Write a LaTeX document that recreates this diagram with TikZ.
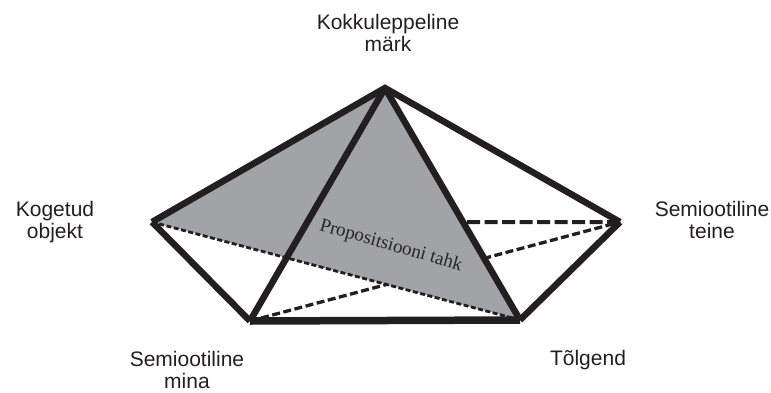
\documentclass[tikz,border=0pt]{standalone}
\usepackage{fontspec}
\setmainfont{Liberation Sans}
\newfontfamily\serifface{Liberation Serif}
\definecolor{ink}{RGB}{35,31,32}
\definecolor{facegray}{RGB}{162,163,167}
\definecolor{facetext}{RGB}{40,37,39}
\begin{document}
\begin{tikzpicture}[x=1pt,y=-1pt,
  edge/.style={draw=ink,line width=6.5pt,line join=miter,line cap=butt},
  baseedge/.style={draw=ink,line width=7.5pt},
  finedash/.style={draw=ink,line width=2.8pt,dash pattern=on 5pt off 2.5pt},
  middash/.style={draw=ink,line width=3.3pt,dash pattern=on 8pt off 3.5pt},
  longdash/.style={draw=ink,line width=4pt,dash pattern=on 13pt off 4.5pt},
  lbl/.style={font=\fontsize{21}{22}\selectfont,text=ink,align=center,inner sep=0pt,anchor=north}]
\useasboundingbox (0,0) rectangle (771,392);
\coordinate (T) at (385,88);
\coordinate (L) at (152,222);
\coordinate (R) at (620,222);
\coordinate (BL) at (250,321);
\coordinate (BR) at (520,320);
\coordinate (H) at (intersection of T--BR and L--R);
% hidden dashed edges
\draw[middash] (BL) -- (R);
\draw[longdash] (R) -- (H);
% propositional face
\fill[facegray] (T) -- (L) -- (BR) -- cycle;
\draw[finedash] (L) -- (BR);
% solid edges
\draw[edge] (L) -- (T) -- (R);
\draw[edge] (T) -- (BL);
\draw[edge] (T) -- (BR);
\draw[edge] (L) -- (BL);
\draw[edge] (R) -- (BR);
\draw[baseedge] (BL) -- (BR);
\node[font=\serifface\fontsize{19}{21}\selectfont,text=facetext,rotate=-16,inner sep=0pt] (face) at (391,246) {Propositsiooni tahk};
% labels
\node[lbl] (top) at (388,14) {Kokkuleppeline\\märk};
\node[lbl] (left) at (55,201) {Kogetud\\objekt};
\node[lbl] (right) at (712,201) {Semiootiline\\teine};
\node[lbl] (bl) at (187,351) {Semiootiline\\mina};
\node[lbl] (br) at (588,350) {Tõlgend};
\end{tikzpicture}
\end{document}
